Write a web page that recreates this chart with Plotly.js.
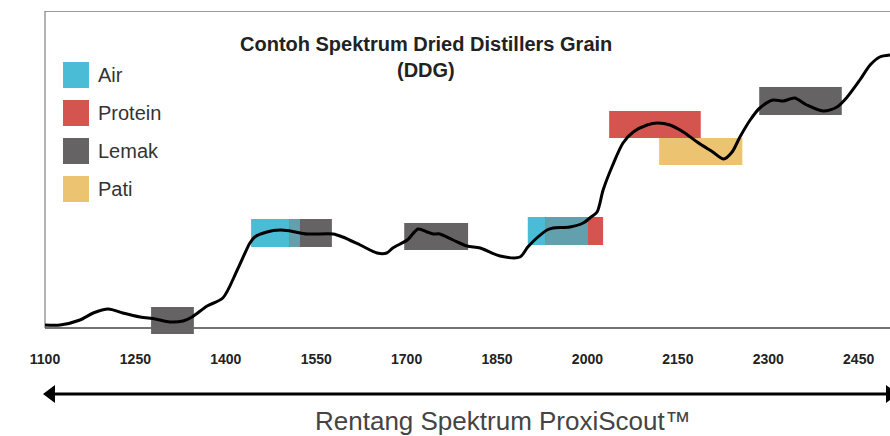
<!DOCTYPE html>
<html>
<head>
<meta charset="utf-8">
<script src="https://cdn.plot.ly/plotly-3.0.1.min.js"></script>
<style>html,body{margin:0;padding:0;background:#fff;}#chart{width:890px;height:436px;}</style>
</head>
<body>
<div id="chart"></div>
<script>
// ---- data ----
const wavelength = [1100,1125,1158,1180,1205,1229,1258,1283,1307,1329,1344,1369,1395,1419,1440,1448,1468,1490,1507,1535,1578,1594,1623,1651,1667,1677,1701,1719,1734,1744,1755,1777,1800,1822,1855,1888,1901,1916,1933,1943,1971,1993,2004,2016,2026,2042,2059,2076,2099,2116,2137,2159,2182,2208,2226,2240,2253,2270,2286,2308,2325,2336,2344,2364,2391,2414,2431,2452,2469,2485,2502];
const absorbance = [3,3,8,15,19,15,11,9,6,7,11,22,30,58,85,91,96,98,97,94,94,91,83,75,75,80,88,99,96,94,94,88,82,80,72,71,81,90,98,100,101,105,110,116,138,163,185,196,203,205,203,196,186,176,169,176,191,208,220,228,227,229,230,223,217,221,231,248,263,271,273];

const bandName  = ['Lemak','Air','Lemak','Lemak','Air','Protein','Protein','Pati','Lemak'];
const bandStart = [1276,1442,1505,1696,1901,1930,2036,2119,2285];
const bandEnd   = [1347,1523,1576,1802,2001,2026,2188,2257,2422];
const bandLow   = [-6,81,81,78,83,83,190,163,213];
const bandHigh  = [21,109,109,105,111,111,217,190,241];

const legendNames = ['Air','Protein','Lemak','Pati'];
const tickValues = [1100,1250,1400,1550,1700,1850,2000,2150,2300,2450];
const tickLabels = ['1100','1250','1400','1550','1700','1850','2000','2150','2300','2450'];

const titleLine1 = 'Contoh Spektrum Dried Distillers Grain';
const titleLine2 = '(DDG)';
const axisCaption = 'Rentang Spektrum ProxiScout™';

// ---- styles ----
const colors = {Air:'#4BBCD6', Protein:'#D4554F', Lemak:'#666364', Pati:'#EBC371'};
const overlapColor = '#63A0AE';
const W = 890, H = 436, ML = 45, MR = 0, MT = 11, MB = 98;
const PW = W - ML - MR, PH = H - MT - MB;
const px = x => (x - ML) / PW;
const py = y => (H - MB - y) / PH;
const font = 'Liberation Sans, Arial, Helvetica, sans-serif';

const shapes = [];
for (let i = 0; i < bandName.length; i++) {
  shapes.push({type:'rect', xref:'x', yref:'y', x0:bandStart[i], x1:bandEnd[i], y0:bandLow[i], y1:bandHigh[i],
    fillcolor:colors[bandName[i]], line:{width:0}, layer:'below'});
}
for (let i = 0; i < bandName.length; i++) {
  for (let j = 0; j < bandName.length; j++) {
    if (i === j || bandName[i] !== 'Air' || bandName[j] === 'Air') continue;
    const a = Math.max(bandStart[i], bandStart[j]), b = Math.min(bandEnd[i], bandEnd[j]);
    const lo = Math.max(bandLow[i], bandLow[j]), hi = Math.min(bandHigh[i], bandHigh[j]);
    if (a < b && lo < hi) {
      shapes.push({type:'rect', xref:'x', yref:'y', x0:a, x1:b, y0:bandLow[i], y1:bandHigh[i],
        fillcolor:overlapColor, line:{width:0}, layer:'below'});
    }
  }
}
shapes.push({type:'line', xref:'paper', yref:'y', x0:0, x1:0, y0:0, y1:317, line:{color:'#9a9a9a', width:1.5}, layer:'below'});
shapes.push({type:'line', xref:'paper', yref:'y', x0:0, x1:1, y0:317, y1:317, line:{color:'#7a7a7a', width:1.5}, layer:'below'});
shapes.push({type:'line', xref:'paper', yref:'y', x0:0, x1:1, y0:0, y1:0, line:{color:'#444', width:1.3}, layer:'below'});
const ay = py(394);
shapes.push({type:'line', xref:'paper', yref:'paper', x0:px(50), x1:px(890), y0:ay, y1:ay, line:{color:'#000', width:3}});
shapes.push({type:'path', xref:'paper', yref:'paper',
  path:`M ${px(43)} ${ay} L ${px(55)} ${py(385)} L ${px(55)} ${py(403)} Z`, fillcolor:'#000', line:{width:0}});
shapes.push({type:'path', xref:'paper', yref:'paper',
  path:`M ${px(898)} ${ay} L ${px(886)} ${py(385)} L ${px(886)} ${py(403)} Z`, fillcolor:'#000', line:{width:0}});

const annotations = [];
legendNames.forEach((n, k) => {
  const top = 62 + k * 38;
  shapes.push({type:'rect', xref:'paper', yref:'paper', x0:px(63), x1:px(89), y0:py(top + 26), y1:py(top),
    fillcolor:colors[n], line:{width:0}});
  annotations.push({xref:'paper', yref:'paper', x:px(96), y:py(top + 13), xanchor:'left', yanchor:'middle',
    text:n, showarrow:false, font:{family:font, size:20, color:'#333'}});
});
annotations.push({xref:'paper', yref:'paper', x:px(425.5), y:py(44), xanchor:'center', yanchor:'middle',
  text:titleLine1, showarrow:false, font:{family:font, size:20, color:'#222', weight:'bold'}});
annotations.push({xref:'paper', yref:'paper', x:px(425.5), y:py(70), xanchor:'center', yanchor:'middle',
  text:titleLine2, showarrow:false, font:{family:font, size:20, color:'#222', weight:'bold'}});
annotations.push({xref:'paper', yref:'paper', x:px(503), y:py(421), xanchor:'center', yanchor:'middle',
  text:axisCaption, showarrow:false, font:{family:font, size:26, color:'#444'}});

const trace = {x:wavelength, y:absorbance, type:'scatter', mode:'lines',
  line:{color:'#000', width:3, shape:'spline', smoothing:0.8}, hoverinfo:'skip', cliponaxis:false};

const layout = {
  width:W, height:H, margin:{l:ML, r:MR, t:MT, b:MB, pad:0},
  paper_bgcolor:'#fff', plot_bgcolor:'#fff', showlegend:false,
  xaxis:{range:[1100,2502], tickvals:tickValues, ticktext:tickLabels, showgrid:false, zeroline:false, showline:false,
    ticks:'outside', ticklen:8, tickcolor:'rgba(0,0,0,0)',
    tickfont:{family:font, size:14, color:'#222', weight:'bold'}, fixedrange:true},
  yaxis:{range:[-10,317], visible:false, showgrid:false, zeroline:false, fixedrange:true},
  shapes:shapes, annotations:annotations
};

Plotly.newPlot('chart', [trace], layout, {displayModeBar:false, staticPlot:true});
</script>
</body>
</html>
